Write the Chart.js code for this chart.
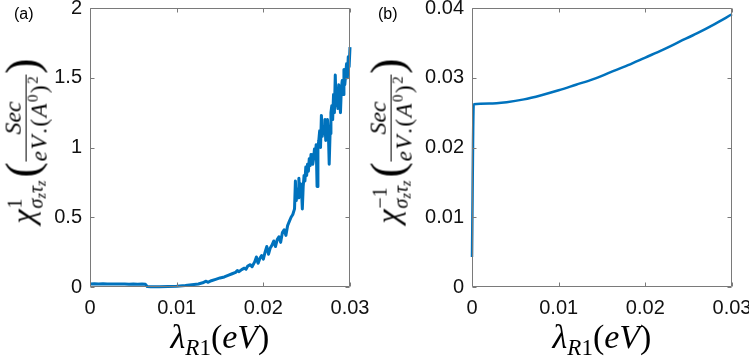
<!DOCTYPE html>
<html>
<head>
<meta charset="utf-8">
<script src="https://cdn.jsdelivr.net/npm/chart.js@4.4.0/dist/chart.umd.min.js"></script>
<style>
  html, body { margin: 0; padding: 0; background: #fff; overflow: hidden; }
  body { width: 749px; height: 356px; position: relative; }
  canvas { position: absolute; top: 0; }
  #chartA { left: 0; }
  #chartB { left: 370px; }
  .t { position: absolute; font-family: 'Liberation Serif', serif; color: #000; white-space: nowrap; line-height: 1; }
  .tag { position: absolute; top: 6px; font: 16px 'Liberation Sans', Arial, sans-serif; line-height: 1; color: #000; }
  .xt { top: 320px; font-size: 34px; font-style: italic; transform: translateX(-50%); }
  .xt .up { font-style: normal; }
  .xt sub { font-size: 23px; vertical-align: -7px; line-height: 0; }
  .yt { top: 141px; font-size: 32px; transform: translate(-50%, -50%) rotate(-90deg); }
  .yt i { font-style: italic; }
  .ss { display: inline-block; vertical-align: -9px; font-size: 20px; line-height: 1.05; margin-left: 1px; }
  .ss span { display: block; text-align: left; }
  .ss small { font-size: 14px; vertical-align: -3px; line-height: 0; }
  .pr { font-size: 46px; vertical-align: -4px; margin: 0 1px 0 3px; }
  .pr.r { margin: 0 0 0 1px; }
  .fr { display: inline-block; vertical-align: middle; text-align: center; }
  .nu { display: block; font-size: 24px; line-height: 0.9; padding: 0 3px 2px; border-bottom: 1.2px solid #000; }
  .de { display: block; font-size: 23px; line-height: 0.9; letter-spacing: 1.5px; padding-top: 3px; }
  .de sup { font-size: 15px; vertical-align: 9px; line-height: 0; }
</style>
</head>
<body>
<canvas id="chartA" width="370" height="356"></canvas>
<canvas id="chartB" width="379" height="356"></canvas>

<div class="tag" style="left:14px">(a)</div>
<div class="tag" style="left:378px">(b)</div>

<div class="t xt" style="left:220px">λ<sub>R<span class="up">1</span></sub><span class="up">(</span>eV<span class="up">)</span></div>
<div class="t xt" style="left:602px">λ<sub>R<span class="up">1</span></sub><span class="up">(</span>eV<span class="up">)</span></div>

<div class="t yt" style="left:25px"><i>χ</i><span class="ss"><span>1</span><span><i>σ<small>z</small>τ<small>z</small></i></span></span><span class="pr">(</span><span class="fr"><span class="nu"><i>Sec</i></span><span class="de"><i>eV</i>.(<i>A</i><sup>0</sup>)<sup>2</sup></span></span><span class="pr r">)</span></div>
<div class="t yt" style="left:390px"><i>χ</i><span class="ss"><span>−1</span><span><i>σ<small>z</small>τ<small>z</small></i></span></span><span class="pr">(</span><span class="fr"><span class="nu"><i>Sec</i></span><span class="de"><i>eV</i>.(<i>A</i><sup>0</sup>)<sup>2</sup></span></span><span class="pr r">)</span></div>

<script>
// panel (a): noisy susceptibility vs lambda_R1
const lambdaA = [
  0, 0.0005, 0.001, 0.0015, 0.002, 0.0025, 0.003, 0.0035, 0.004, 0.0045, 0.005, 0.0055, 0.006, 0.0064,
  0.0066, 0.007, 0.008, 0.009, 0.010, 0.011, 0.012, 0.0125, 0.013, 0.0134, 0.0136, 0.014, 0.0145,
  0.015, 0.0155, 0.016, 0.0164, 0.0168, 0.017, 0.0172, 0.0175, 0.0178, 0.018, 0.0182, 0.0185, 0.0187,
  0.019, 0.0192, 0.0194, 0.0196, 0.0198, 0.020, 0.0202, 0.0204, 0.0206, 0.0208, 0.021, 0.0212, 0.0214,
  0.0216, 0.0218, 0.022, 0.0222, 0.0224, 0.0226, 0.0228, 0.023, 0.0232, 0.0234, 0.0236,
  0.0237, 0.0238, 0.0239, 0.024, 0.0241, 0.0242, 0.0243, 0.0244, 0.0245, 0.0246, 0.0247, 0.0248, 0.0249,
  0.025, 0.0251, 0.0252, 0.0253, 0.0254, 0.0255, 0.0256, 0.0257, 0.0258, 0.0259,
  0.026, 0.0261, 0.0262, 0.0263, 0.0264, 0.0265, 0.0266, 0.0267, 0.0268, 0.0269,
  0.027, 0.0271, 0.0272, 0.0273, 0.0274, 0.0275, 0.0276, 0.0277, 0.0278, 0.0279,
  0.028, 0.0281, 0.0282, 0.0283, 0.0284, 0.0285, 0.0286, 0.0287, 0.0288, 0.0289,
  0.029, 0.0291, 0.0292, 0.0293, 0.0294, 0.0295, 0.0296, 0.0297, 0.0298, 0.0299, 0.030,
];
const chiA = [
  0.022, 0.023, 0.022, 0.023, 0.022, 0.021, 0.022, 0.021, 0.022, 0.020, 0.021, 0.020, 0.021, 0.019,
  0.004, 0.002, 0.001, 0.003, 0.006, 0.011, 0.018, 0.022, 0.030, 0.042, 0.034, 0.045, 0.055,
  0.065, 0.072, 0.085, 0.095, 0.105, 0.118, 0.110, 0.125, 0.135, 0.128, 0.150, 0.160, 0.145,
  0.180, 0.215, 0.170, 0.205, 0.225, 0.200, 0.250, 0.290, 0.235, 0.280, 0.300, 0.330, 0.290,
  0.340, 0.360, 0.320, 0.390, 0.410, 0.370, 0.440, 0.470, 0.500, 0.520, 0.560,
  0.760, 0.620, 0.700, 0.640, 0.780, 0.690, 0.740, 0.700, 0.560, 0.720, 0.800, 0.760, 0.860,
  0.800, 0.880, 0.830, 0.920, 0.870, 0.950, 0.900, 0.880, 0.920, 0.990,
  0.950, 1.020, 0.720, 1.000, 1.050, 1.120, 1.000, 1.230, 1.080, 1.150,
  1.100, 1.200, 1.050, 1.150, 1.200, 1.120, 0.880, 1.100, 1.250, 1.300,
  1.200, 1.380, 1.250, 1.520, 1.300, 1.400, 1.280, 1.450, 1.350, 1.250,
  1.420, 1.480, 1.380, 1.560, 1.450, 1.520, 1.600, 1.500, 1.650, 1.580, 1.720,
];

// panel (b): smooth inverse susceptibility
const lambdaB = [0, 0.0002, 0.002, 0.004, 0.006, 0.008, 0.010, 0.012, 0.014, 0.016, 0.018, 0.020, 0.022, 0.024, 0.026, 0.028, 0.030];
const chiB = [0.0043, 0.0262, 0.0263, 0.0265, 0.0269, 0.0275, 0.0282, 0.0290, 0.0298, 0.0308, 0.0318, 0.0329, 0.0340, 0.0352, 0.0364, 0.0377, 0.0391];

const xTicks = [0, 0.01, 0.02, 0.03];
const yTicksA = [0, 0.5, 1, 1.5, 2];
const yTicksB = [0, 0.01, 0.02, 0.03, 0.04];

const blue = '#0072BD';
const boxColor = '#7a7a7a';

function toPoints(xs, ys) {
  return xs.map((x, i) => ({ x, y: ys[i] }));
}

// MATLAB-like box with inward ticks on all four sides
const framePlugin = {
  id: 'frame',
  afterDraw(chart) {
    const { ctx, chartArea: a, scales } = chart;
    const L = Math.round(a.left) + 0.5;
    const R = Math.round(a.right) - 0.5;
    const T = Math.round(a.top) + 0.5;
    const B = Math.round(a.bottom) - 0.5;
    ctx.save();
    ctx.strokeStyle = boxColor;
    ctx.lineWidth = 1;
    ctx.beginPath();
    ctx.rect(L, T, R - L, B - T);
    scales.x.ticks.forEach((t) => {
      const px = Math.round(scales.x.getPixelForValue(t.value)) + 0.5;
      ctx.moveTo(px, B); ctx.lineTo(px, B - 4);
      ctx.moveTo(px, T); ctx.lineTo(px, T + 4);
    });
    scales.y.ticks.forEach((t) => {
      const py = Math.round(scales.y.getPixelForValue(t.value)) + 0.5;
      ctx.moveTo(L, py); ctx.lineTo(L + 4, py);
      ctx.moveTo(R, py); ctx.lineTo(R - 4, py);
    });
    ctx.stroke();
    ctx.restore();
  },
};

const tickFont = { family: "'Liberation Sans', Arial, sans-serif", size: 20 };

function makeChart(id, xs, ys, yTicks, yMax, yWidth, padRight, smooth) {
  return new Chart(document.getElementById(id), {
    type: 'scatter',
    data: {
      datasets: [{
        data: toPoints(xs, ys),
        showLine: true,
        borderColor: blue,
        borderWidth: smooth ? 2.5 : 3,
        borderJoinStyle: 'round',
        pointRadius: 0,
        cubicInterpolationMode: smooth ? 'monotone' : 'default',
        clip: false,
      }],
    },
    options: {
      responsive: false,
      animation: false,
      layout: { padding: { top: 8, right: padRight, bottom: 0, left: 0 } },
      plugins: { legend: { display: false }, tooltip: { enabled: false } },
      scales: {
        x: {
          type: 'linear',
          min: 0,
          max: 0.03,
          afterBuildTicks: (s) => { s.ticks = xTicks.map((v) => ({ value: v })); },
          afterFit: (s) => { s.height = 69; s.paddingLeft = 0; s.paddingRight = 0; },
          grid: { display: false, drawTicks: false },
          border: { display: false },
          ticks: { font: tickFont, color: '#111', padding: 9, maxRotation: 0, callback: (v) => String(v) },
        },
        y: {
          type: 'linear',
          min: 0,
          max: yMax,
          afterBuildTicks: (s) => { s.ticks = yTicks.map((v) => ({ value: v })); },
          afterFit: (s) => { s.width = yWidth; s.paddingTop = 0; s.paddingBottom = 0; },
          grid: { display: false, drawTicks: false },
          border: { display: false },
          ticks: { font: tickFont, color: '#111', padding: 8, callback: (v) => String(v) },
        },
      },
    },
    plugins: [framePlugin],
  });
}

makeChart('chartA', lambdaA, chiA, yTicksA, 2, 90, 20, false);
makeChart('chartB', lambdaB, chiB, yTicksB, 0.04, 102, 17, true);
</script>
</body>
</html>
